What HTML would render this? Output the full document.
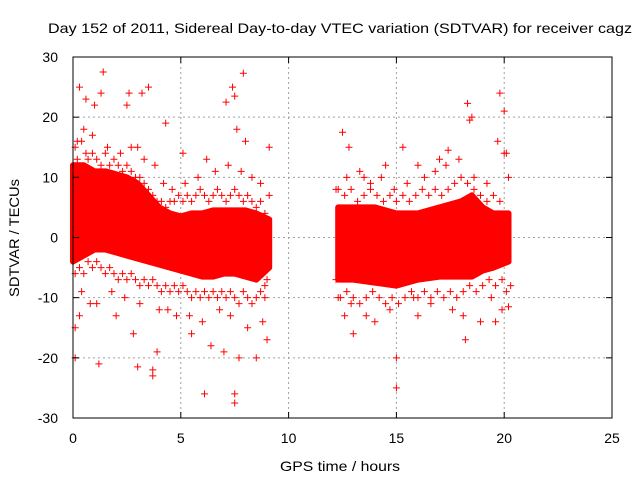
<!DOCTYPE html>
<html><head><meta charset="utf-8"><style>
body{margin:0;background:#fff;}
svg{display:block;font-family:"Liberation Sans",sans-serif;}
</style></head><body>
<svg id="chart" width="640" height="480">
<text x="340" y="33" font-size="14" text-anchor="middle" textLength="584" lengthAdjust="spacingAndGlyphs">Day 152 of 2011, Sidereal Day-to-day VTEC variation (SDTVAR) for receiver cagz</text>
<text x="340" y="471" font-size="14" text-anchor="middle" textLength="120" lengthAdjust="spacingAndGlyphs">GPS time / hours</text>
<text transform="translate(19,238) rotate(-90)" font-size="14" text-anchor="middle" textLength="118" lengthAdjust="spacingAndGlyphs">SDTVAR / TECUs</text>
<g id="grid"></g><g id="band"></g><g id="pts"></g><g id="ticks"></g>
<rect x="73" y="57" width="539" height="361" fill="none" stroke="#000"/>
</svg>
<script>
const xTicks=[0,5,10,15,20,25];
const yTicks=[-30,-20,-10,0,10,20,30];
const band1T=[0,0.5,1,1.5,2,2.5,3,3.5,4,4.5,5,5.5,6,6.5,7,7.5,8,8.5,9.1];
const band1Lo=[-4,-3,-2,-2,-2.5,-3,-3.5,-4,-4.5,-5,-5.5,-6,-6.5,-6.5,-6,-6,-6.5,-7,-5];
const band1Hi=[12,12,11,11,10.5,10,9,7,5,4,3.5,4,4,4.5,4.5,4.5,4.5,4,3];
const band2T=[12.3,13,14,15,16,17,18,18.5,19,19.5,20.2];
const band2Lo=[-7,-7,-7.5,-8,-7,-6.5,-6.5,-6.5,-5.5,-5,-4];
const band2Hi=[5,5,5,4,4,5,6,7,5,4,4];
const ptX=[0.3,1.4,0.1,1.2,3,3.7,3.7,3.5,3.2,2.6,2.5,3.9,6.1,7.5,7.5,7.9,7.4,7.5,7.1,7.6,4.3,5.5,6.4,7,7.7,8.5,9,12.5,12.8,15,15,15.3,18.3,18.4,18.5,19.8,20,19.7,20.2,18.2,13,14,16,12.3,12.6,17.4,0.1,0.3,0.8,2,1,0.6,1.3,2.8,9.1,8.8,6.2,8,5.1,3,4,4.8,13.5,14.5,16,17,18.9,19.6,20.1,12.2,12.2,20.2,20.3,0.2,0.5,0.9,1.6,2.2,2.7,3.3,3.8,4.2,4.6,5.2,5.8,6.6,7.2,7.8,8.3,8.9,0.4,1.1,1.8,2.4,3.1,4.4,5.4,6,6.8,7.3,8.1,8.7,12.7,13.3,13.8,14.3,14.9,15.5,16.3,16.8,17.3,17.9,18.6,19.2,19.9,12.9,13.6,14.7,15.8,16.6,17.6,18.1,19.4,20,
0.1,0.2,0.4,0.6,0.7,0.9,1.1,1.3,1.5,1.7,1.9,2.1,2.3,2.5,2.7,2.9,3.1,3.3,3.5,3.7,3.9,4.1,4.3,4.5,4.7,4.9,5.1,5.3,5.5,5.7,5.9,6.1,6.3,6.5,6.7,6.9,7.1,7.3,7.5,7.7,7.9,8.1,8.3,8.5,8.7,8.9,9.0,
0.1,0.3,0.5,0.7,0.9,1.1,1.3,1.5,1.7,1.9,2.1,2.3,2.5,2.7,2.9,3.1,3.3,3.5,3.7,3.9,4.1,4.3,4.5,4.7,4.9,5.1,5.3,5.5,5.7,5.9,6.1,6.3,6.5,6.7,6.9,7.1,7.3,7.5,7.7,7.9,8.1,8.3,8.5,8.7,8.9,9.1,
12.3,12.6,12.9,13.2,13.5,13.8,14.1,14.4,14.7,15,15.3,15.6,15.9,16.2,16.5,16.8,17.1,17.4,17.7,18,18.3,18.6,18.9,19.2,19.5,19.8,20.1,
12.4,12.7,13,13.3,13.6,13.9,14.2,14.5,14.8,15.1,15.4,15.7,16,16.3,16.6,16.9,17.2,17.5,17.8,18.1,18.4,18.7,19,19.3,19.6,19.9,20.2];
const ptY=[25,27.5,-20,-21,-21.5,-22,-23,25,24,24,22,-19,-26,-26,-27.5,27.3,25,23.5,22.5,18,19,-16,-18,-19,-20,-20,-17,17.5,15,-25,-20,15,22.3,19.5,20,24,21,16,-11.5,-17,-16,-14,-13,-10,-13,14.5,-15,-13,-11,-13,22,23,24,-16,15,-14,13,16,14,15,-12,-13,10,12,12,13,-14,-14,14,8,-7,10,-8,16,18,17,15,14,15,13,12,9,8,9,10,11,12,11,10,-10,-9,-11,-9,-10,-11,-12,-13,-14,-12,-13,-15,9,10,11,9,10,8,9,10,11,12,13,10,9,-12,-11,-13,-12,-10,-11,-12,-13,-10,
14,15,13,16,14,13,14,13,12,14,12,13,12,11,12,11,10,10,9,8,7,6,6,5,6,6,7,6,7,6,7,8,7,6,7,8,7,6,7,8,7,6,7,6,5,6,4,
-7,-6,-5,-6,-4,-5,-4,-5,-6,-5,-6,-7,-6,-7,-6,-7,-8,-7,-8,-7,-8,-9,-8,-9,-8,-9,-8,-9,-10,-9,-10,-9,-10,-9,-10,-9,-10,-9,-10,-11,-9,-10,-11,-10,-9,-8,
7,8,7,8,6,7,8,7,6,7,6,7,6,7,8,7,8,7,8,9,10,9,8,7,6,7,6,
-9,-10,-9,-10,-11,-10,-9,-10,-11,-10,-11,-10,-9,-10,-9,-10,-9,-10,-9,-10,-9,-8,-9,-8,-7,-8,-7];
const NS="http://www.w3.org/2000/svg";
const X0=73,X1=612,Y0=418,Y1=57;
const xs=v=>X0+(v-0)/25*(X1-X0);
const ys=v=>Y0-(v+30)/60*(Y0-Y1);
function mk(t,a,p){const e=document.createElementNS(NS,t);for(const k in a)e.setAttribute(k,a[k]);p.appendChild(e);return e;}
const grid=document.getElementById('grid'),ticks=document.getElementById('ticks');
xTicks.forEach(v=>{
 const x=xs(v);
 if(v>0&&v<25){const l=mk('line',{x1:x,x2:x,y1:Y1,y2:Y0,stroke:'#a0a0a0','stroke-dasharray':'2,3'},grid);
 
 }
 mk('line',{x1:x,x2:x,y1:Y0,y2:Y0-6,stroke:'#000'},ticks);
 mk('line',{x1:x,x2:x,y1:Y1,y2:Y1+6,stroke:'#000'},ticks);
 const t=mk('text',{x:x,y:443,'font-size':14,'text-anchor':'middle'},ticks);t.textContent=v;
 
 
});
yTicks.forEach(v=>{
 const y=ys(v);
 if(v>-30&&v<30){const l=mk('line',{x1:X0,x2:X1,y1:y,y2:y,stroke:'#a0a0a0','stroke-dasharray':'2,3'},grid);
 
 }
 mk('line',{x1:X0,x2:X0+6,y1:y,y2:y,stroke:'#000'},ticks);
 mk('line',{x1:X1,x2:X1-6,y1:y,y2:y,stroke:'#000'},ticks);
 const t=mk('text',{x:58,y:y+5,'font-size':14,'text-anchor':'end'},ticks);t.textContent=v;
 
 
});
const band=document.getElementById('band');
function drawBand(T,L,H,name){
 let d='M'+T.map((t,i)=>xs(t)+','+ys(H[i])).join('L');
 for(let i=T.length-1;i>=0;i--)d+='L'+xs(T[i])+','+ys(L[i]);
 const p=mk('path',{d:d+'Z',fill:'#ff0000',stroke:'#ff0000','stroke-width':6,'stroke-linejoin':'round'},band);
 
 
}
drawBand(band1T,band1Lo,band1Hi,'dense-cloud-early');
drawBand(band2T,band2Lo,band2Hi,'dense-cloud-late');
const pts=document.getElementById('pts');
ptX.forEach((v,i)=>{
 const x=xs(v),y=ys(ptY[i]);
 const p=mk('path',{d:`M${x-3.5},${y}h7M${x},${y-3.5}v7`,stroke:'#ff0000','stroke-width':1},pts);
 
 
});
</script>
</body></html>
